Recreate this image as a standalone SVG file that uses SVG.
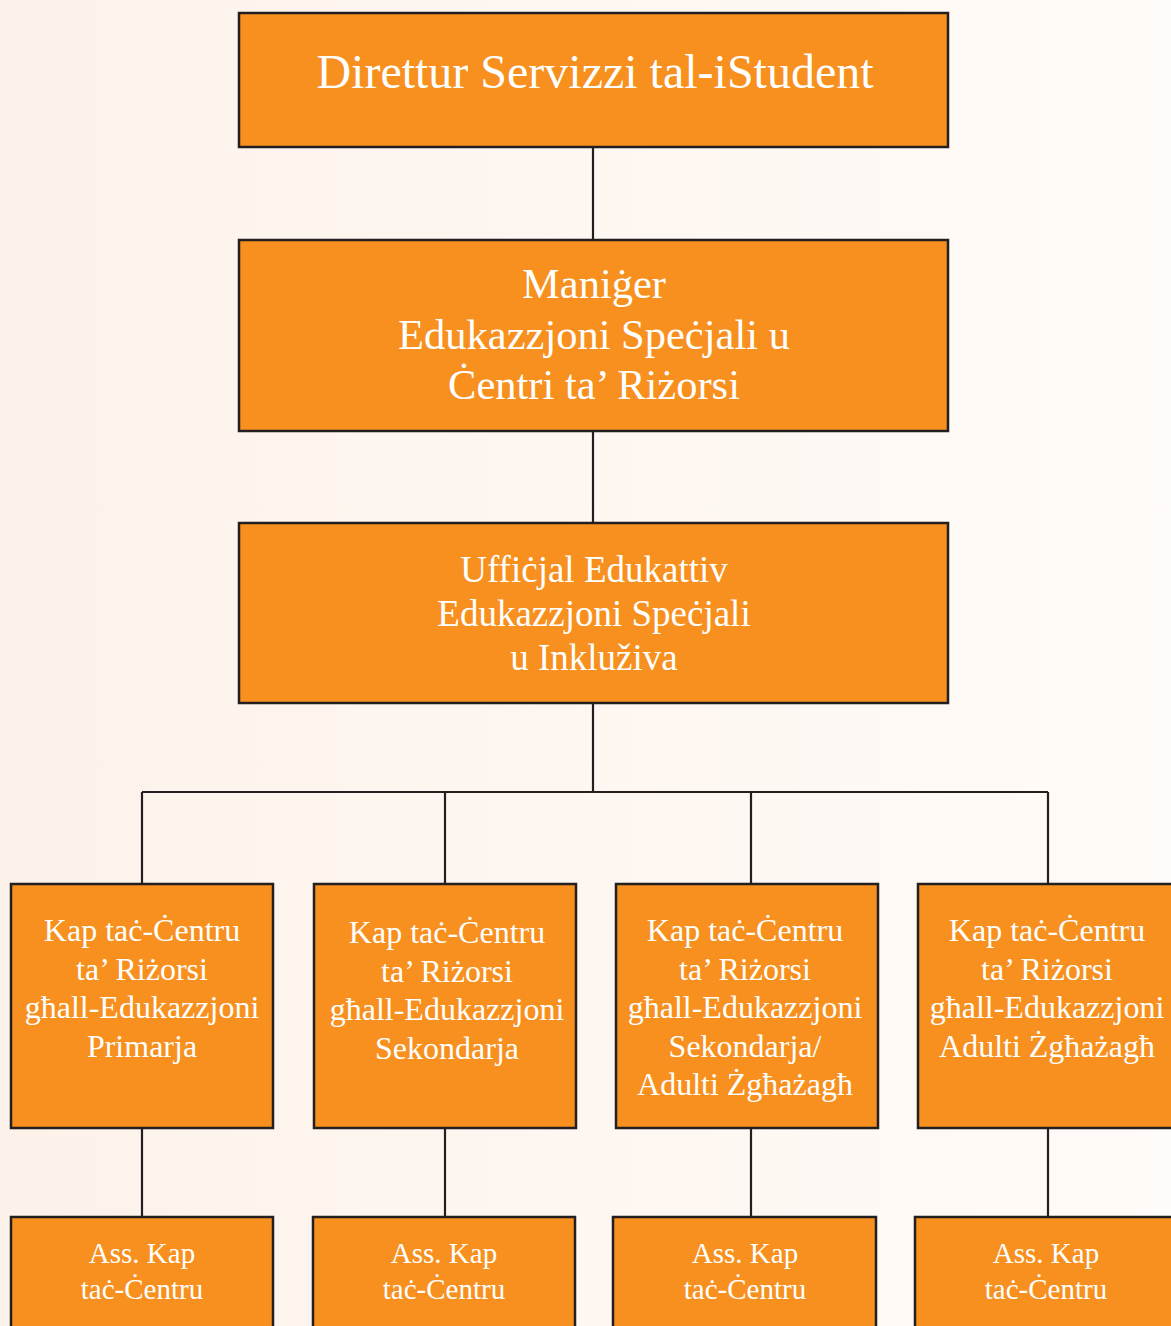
<svg xmlns="http://www.w3.org/2000/svg" width="1171" height="1326" viewBox="0 0 1171 1326">
<defs>
<linearGradient id="bg" x1="0" y1="0" x2="1" y2="0">
<stop offset="0" stop-color="#fcf2ea"/>
<stop offset="1" stop-color="#fffbf8"/>
</linearGradient>
<style>
.box{fill:#f7901e;stroke:#231f20;stroke-width:2.5}
.t{font-family:"Liberation Serif","Times New Roman",serif;fill:#ffffff;text-anchor:middle}
.conn{stroke:#231f20;stroke-width:2.2;fill:none}
</style>
</defs>
<rect x="0" y="0" width="1171" height="1326" fill="url(#bg)"/>
<g id="connectors">
<path class="conn" d="M593 147V240M593 431V523M593 703V792M142 792H1048M142 792V884M445 792V884M751 792V884M1048 792V884M142 1128V1217M445 1128V1217M751 1128V1217M1048 1128V1217"/>
</g>
<g id="n1"><rect class="box" x="239" y="13" width="709" height="134"/>
<text class="t" x="595" y="88" font-size="48">Direttur Servizzi tal-iStudent</text></g>
<g id="n2"><rect class="box" x="239" y="240" width="709" height="191"/>
<text class="t" font-size="42.5"><tspan x="594" y="298">Maniġer</tspan><tspan x="594" y="349">Edukazzjoni Speċjali u</tspan><tspan x="594" y="399">Ċentri ta’ Riżorsi</tspan></text></g>
<g id="n3"><rect class="box" x="239" y="523" width="709" height="180"/>
<text class="t" font-size="37"><tspan x="594" y="582">Uffiċjal Edukattiv</tspan><tspan x="594" y="626">Edukazzjoni Speċjali</tspan><tspan x="594" y="670">u Inkluživa</tspan></text></g>
<g id="n4a"><rect class="box" x="11" y="884" width="262" height="244"/>
<text class="t" font-size="32"><tspan x="142" y="941">Kap taċ-Ċentru</tspan><tspan x="142" y="979.5">ta’ Riżorsi</tspan><tspan x="142" y="1018">għall-Edukazzjoni</tspan><tspan x="142" y="1056.5">Primarja</tspan></text></g>
<g id="n4b"><rect class="box" x="314" y="884" width="262" height="244"/>
<text class="t" font-size="32"><tspan x="447" y="943">Kap taċ-Ċentru</tspan><tspan x="447" y="981.5">ta’ Riżorsi</tspan><tspan x="447" y="1020">għall-Edukazzjoni</tspan><tspan x="447" y="1058.5">Sekondarja</tspan></text></g>
<g id="n4c"><rect class="box" x="616" y="884" width="262" height="244"/>
<text class="t" font-size="32"><tspan x="745" y="941">Kap taċ-Ċentru</tspan><tspan x="745" y="979.5">ta’ Riżorsi</tspan><tspan x="745" y="1018">għall-Edukazzjoni</tspan><tspan x="745" y="1056.5">Sekondarja/</tspan><tspan x="745" y="1095">Adulti Żgħażagħ</tspan></text></g>
<g id="n4d"><rect class="box" x="918" y="884" width="262" height="244"/>
<text class="t" font-size="32"><tspan x="1047" y="941">Kap taċ-Ċentru</tspan><tspan x="1047" y="979.5">ta’ Riżorsi</tspan><tspan x="1047" y="1018">għall-Edukazzjoni</tspan><tspan x="1047" y="1056.5">Adulti Żgħażagħ</tspan></text></g>
<g id="n5a"><rect class="box" x="11" y="1217" width="262" height="130"/>
<text class="t" font-size="29"><tspan x="142" y="1263">Ass. Kap</tspan><tspan x="142" y="1299">taċ-Ċentru</tspan></text></g>
<g id="n5b"><rect class="box" x="313" y="1217" width="262" height="130"/>
<text class="t" font-size="29"><tspan x="444" y="1263">Ass. Kap</tspan><tspan x="444" y="1299">taċ-Ċentru</tspan></text></g>
<g id="n5c"><rect class="box" x="613" y="1217" width="263" height="130"/>
<text class="t" font-size="29"><tspan x="745" y="1263">Ass. Kap</tspan><tspan x="745" y="1299">taċ-Ċentru</tspan></text></g>
<g id="n5d"><rect class="box" x="915" y="1217" width="262" height="130"/>
<text class="t" font-size="29"><tspan x="1046" y="1263">Ass. Kap</tspan><tspan x="1046" y="1299">taċ-Ċentru</tspan></text></g>
</svg>
